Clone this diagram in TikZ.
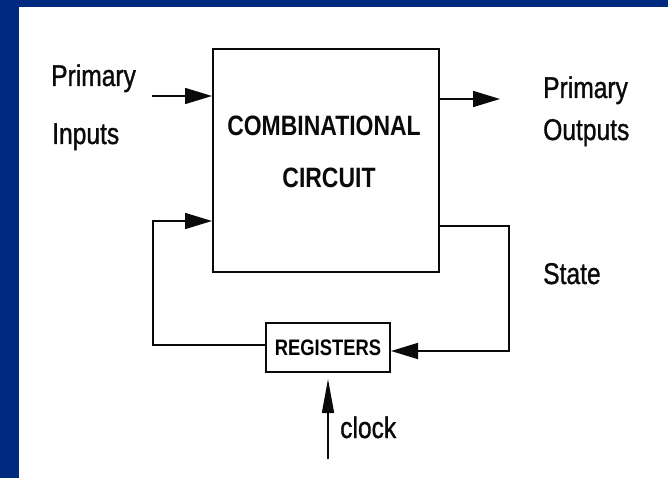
\documentclass[tikz,border=0pt]{standalone}
\usepackage{fontspec}
\usetikzlibrary{arrows.meta,positioning,calc}
\newfontfamily\narrowsf[FakeStretch=0.82]{Liberation Sans}
\newfontfamily\narrowlbl[FakeStretch=0.82,FakeBold=1]{Liberation Sans}
\definecolor{slideblue}{RGB}{0,41,128}
\definecolor{ink}{RGB}{10,10,10}

\begin{document}
\begin{tikzpicture}[x=1pt,y=-1pt,
    lbl/.style={font=\narrowlbl\fontsize{30}{36}\selectfont,text=ink,inner sep=0pt},
    blocklbl/.style={font=\narrowsf\bfseries\fontsize{28}{34}\selectfont,text=ink,inner sep=0pt},
    block/.style={draw=ink,line width=2pt,inner sep=0pt},
    wire/.style={draw=ink,line width=1.6pt},
    flow/.style={wire,-{Triangle[length=27pt,width=16pt]}},
    tick/.style={wire,-{Triangle[length=34pt,width=12pt]}}]
    \useasboundingbox (0,0) rectangle (668,478);
    \fill[white] (0,0) rectangle (668,478);
    \fill[slideblue] (0,0) rectangle (668,7);
    \fill[slideblue] (0,0) rectangle (19,478);

    % blocks
    \node[block,minimum width=226pt,minimum height=223pt] (comb) at (326,160.5) {};
    \node[blocklbl,anchor=base] (cc1) at (324,136) {COMBINATIONAL};
    \node[blocklbl,anchor=base] (cc2) at (329,188) {CIRCUIT};
    \node[block,minimum width=124pt,minimum height=49pt,
      font=\narrowsf\bfseries\fontsize{22.4}{26}\selectfont] (reg) at (328,347.5) {REGISTERS};

    % labels
    \foreach \t/\x/\y [count=\i] in {Primary/51/86, Inputs/52/144, Primary/543/98,
      Outputs/543/140, State/543/284, clock/340/438}
      \node[lbl,anchor=base west] (t\i) at (\x,\y) {\t};

    % connectors
    \coordinate (inA) at (152,96);
    \coordinate (outA) at (500,99);
    \coordinate (stA) at (509,226);
    \coordinate (fbA) at (153,221);
    \coordinate (clkA) at (328,459);
    \draw[flow] (inA) -- (inA -| comb.west);
    \draw[flow] (outA -| comb.east) -- (outA);
    \draw[flow] (stA -| comb.east) -- (stA) |- ($(reg.east)+(0,3.5)$);
    \draw[flow] ($(reg.west)+(0,-2.5)$) -| (fbA) -- (fbA -| comb.west);
    \draw[tick,shorten >=6pt] (clkA) -- (reg.south);
\end{tikzpicture}
\end{document}
